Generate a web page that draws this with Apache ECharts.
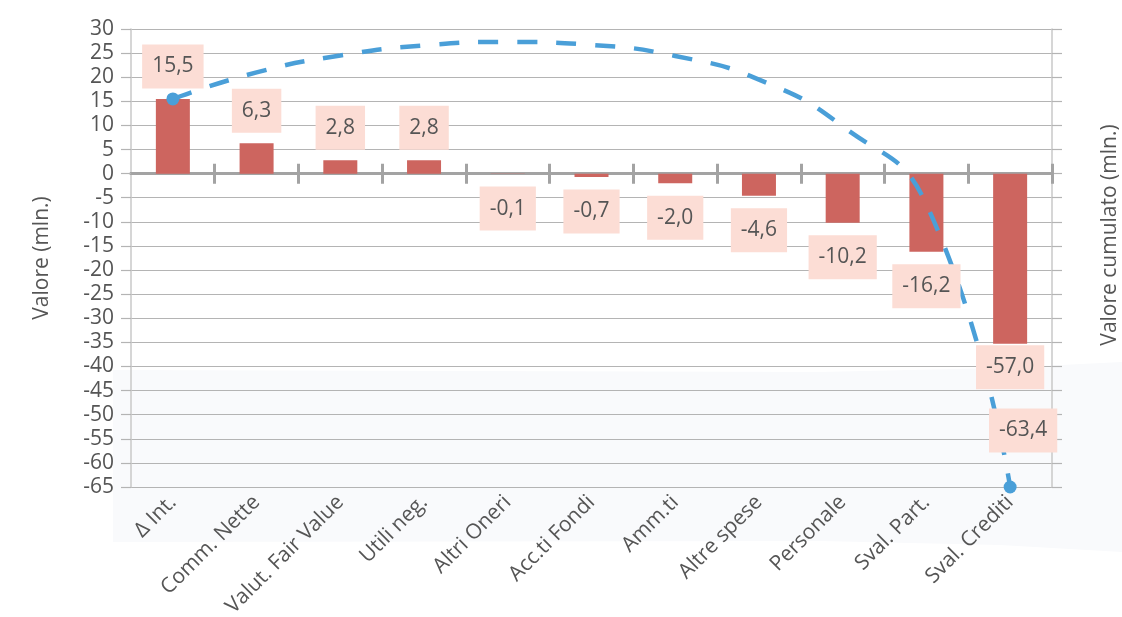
<!DOCTYPE html>
<html><head><meta charset="utf-8">
<script src="https://cdn.jsdelivr.net/npm/echarts@6/dist/echarts.min.js"></script>
<style>html,body{margin:0;padding:0;background:#fff}#c{width:1122px;height:617px}</style>
</head><body><div id="c"></div>
<script>
const categories = ['Δ Int.', 'Comm. Nette', 'Valut. Fair Value', 'Utili neg.', 'Altri Oneri', 'Acc.ti Fondi', 'Amm.ti', 'Altre spese', 'Personale', 'Sval. Part.', 'Sval. Crediti'];
const barValues = [15.5, 6.3, 2.8, 2.8, -0.1, -0.7, -2.0, -4.6, -10.2, -16.2, -35.3];
const barLabels = ['15,5', '6,3', '2,8', '2,8', '-0,1', '-0,7', '-2,0', '-4,6', '-10,2', '-16,2', '-57,0'];
const cumulativeValues = [15.5, 21.0, 24.5, 26.6, 27.3, 26.7, 24.4, 19.5, 9.8, -6.4, -65.0];
const cumulativeEndLabel = '-63,4';
const yMin = -65, yMax = 30, yInterval = 5;

const FONT = 'Open Sans';
const TXT = '#555555';
const boxStyle = {
  backgroundColor: '#fcddd5', padding: [11, 10], color: TXT,
  fontSize: 21, fontFamily: FONT, lineHeight: 22
};

const chart = echarts.init(document.getElementById('c'), null, {renderer: 'canvas'});
const labelData = barValues.map((v, i) => ({
  value: v,
  label: {
    position: v >= 0 ? 'top' : 'bottom',
    distance: i === barValues.length - 1 ? 1 : (v >= 0 ? 10 : 12)
  }
}));
const lineData = cumulativeValues.map((v, i) => {
  const last = i === cumulativeValues.length - 1;
  const item = {value: v, symbol: (i === 0 || last) ? 'circle' : 'none'};
  if (last) {
    item.label = Object.assign({show: true, formatter: cumulativeEndLabel, position: 'top', distance: 28, offset: [13, 0]}, boxStyle);
  }
  return item;
});

const zeroAxisBase = {
  type: 'category', data: categories, position: 'bottom',
  axisLine: {onZero: true, lineStyle: {color: '#a3a3a3', width: 3}},
  axisLabel: {show: false}, splitLine: {show: false},
  axisTick: {show: true, length: 10, interval: (i) => i !== 0, lineStyle: {color: '#a3a3a3', width: 3}}
};

chart.setOption({
  animation: false,
  backgroundColor: '#ffffff',
  graphic: [{
    type: 'polygon', z: -100, silent: true,
    shape: {points: [[113, 370], [820, 372], [1000, 368], [1122, 362], [1122, 552], [1000, 545], [820, 541], [113, 542]]},
    style: {fill: '#f9fafc'}
  }],
  grid: {left: 131, right: 70, top: 29, bottom: 130, containLabel: false, outerBoundsMode: 'none'},
  xAxis: [
    {
      type: 'category', data: categories, position: 'bottom',
      axisLine: {show: false, onZero: false}, axisTick: {show: false},
      axisLabel: {rotate: 45, margin: 12, color: TXT, fontSize: 21, fontFamily: FONT, interval: 0},
      splitLine: {show: false}
    },
    Object.assign({}, zeroAxisBase, {axisTick: Object.assign({}, zeroAxisBase.axisTick, {inside: false})}),
    Object.assign({}, zeroAxisBase, {axisTick: Object.assign({}, zeroAxisBase.axisTick, {inside: true})})
  ],
  yAxis: [
    {
      type: 'value', min: yMin, max: yMax, interval: yInterval, position: 'left',
      name: 'Valore (mln.)', nameLocation: 'middle', nameGap: 78, nameRotate: 90,
      nameTextStyle: {color: TXT, fontSize: 21, fontFamily: FONT},
      axisLine: {show: true, lineStyle: {color: '#c9c9c9', width: 1.5}},
      axisTick: {show: true, length: 10, lineStyle: {color: '#b4b4b4', width: 1.2}},
      axisLabel: {color: TXT, fontSize: 21, fontFamily: FONT, margin: 17},
      splitLine: {show: true, lineStyle: {color: '#b4b4b4', width: 1.2}}
    },
    {
      type: 'value', min: yMin, max: yMax, interval: yInterval, position: 'right',
      name: 'Valore cumulato (mln.)', nameLocation: 'middle', nameGap: 48, nameRotate: 90,
      nameTextStyle: {color: TXT, fontSize: 21, fontFamily: FONT, padding: [0, 0, 0, 46]},
      axisLine: {show: true, lineStyle: {color: '#c9c9c9', width: 1.5}},
      axisTick: {show: true, length: 10, lineStyle: {color: '#b4b4b4', width: 1.2}},
      axisLabel: {show: false},
      splitLine: {show: false}
    }
  ],
  series: [
    {
      type: 'bar', data: barValues, xAxisIndex: 0, yAxisIndex: 0, barWidth: 34, z: 2,
      itemStyle: {color: '#cd655f'}
    },
    {
      type: 'line', data: lineData, xAxisIndex: 0, yAxisIndex: 0, z: 3,
      smooth: 0.5, showSymbol: true, symbolSize: 13,
      lineStyle: {color: '#4a9fd8', width: 4.5, type: [20, 19]},
      itemStyle: {color: '#4a9fd8'}
    },
    {
      type: 'scatter', data: labelData, xAxisIndex: 0, yAxisIndex: 0, z: 5, zlevel: 1,
      symbolSize: 1, itemStyle: {color: 'rgba(0,0,0,0)', opacity: 1},
      label: Object.assign({show: true, formatter: (p) => barLabels[p.dataIndex]}, boxStyle)
    }
  ]
});
</script>
</body></html>
